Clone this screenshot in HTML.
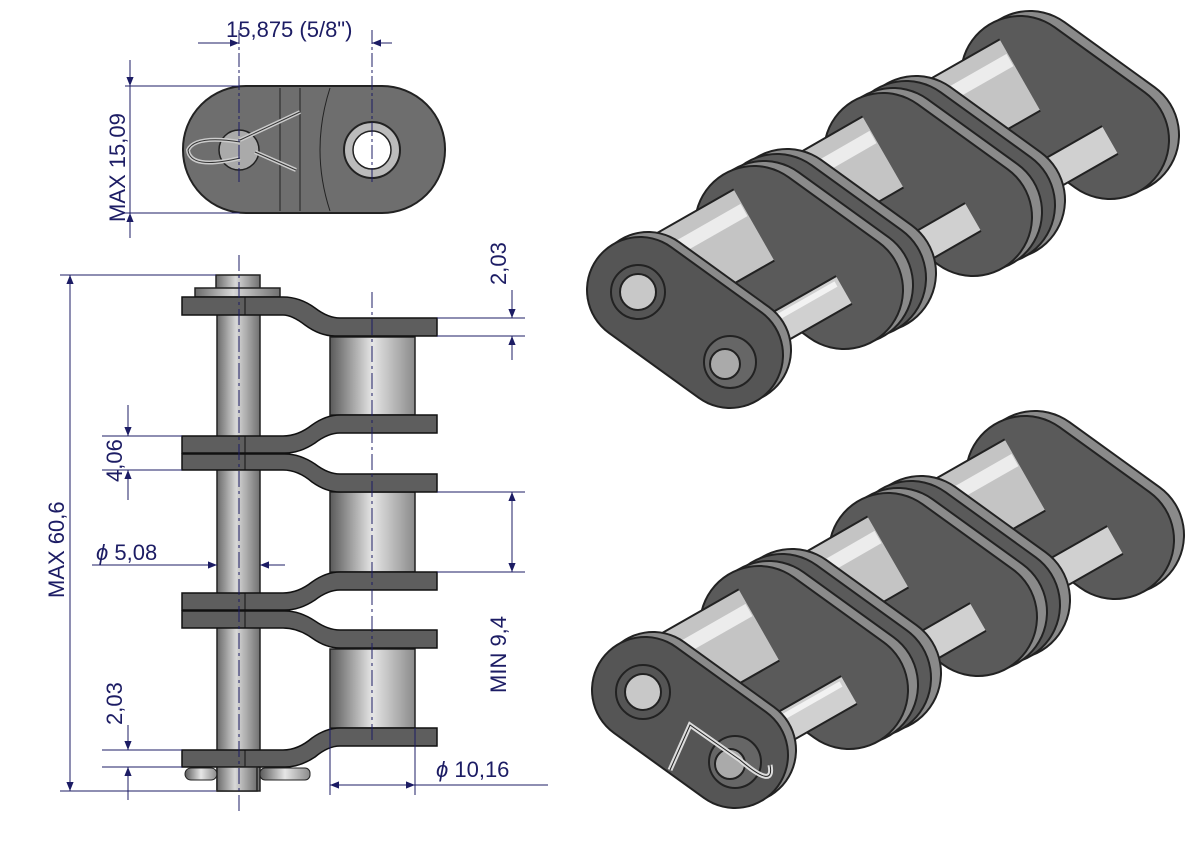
<!DOCTYPE html>
<html><head><meta charset="utf-8"><style>
html,body{margin:0;padding:0;background:#fff;}
svg{display:block;}
text{font-family:"Liberation Sans",sans-serif;fill:#1c1c64;font-size:22px;}
</style></head><body>
<svg width="1191" height="842" viewBox="0 0 1191 842" xmlns="http://www.w3.org/2000/svg">
<defs>
<linearGradient id="cyl" x1="0" x2="1" y1="0" y2="0">
<stop offset="0" stop-color="#6a6a6a"/><stop offset="0.45" stop-color="#d8d8d8"/><stop offset="1" stop-color="#707070"/>
</linearGradient>
<linearGradient id="rol" x1="0" x2="1" y1="0" y2="0">
<stop offset="0" stop-color="#5a5a5a"/><stop offset="0.5" stop-color="#e6e6e6"/><stop offset="1" stop-color="#8a8a8a"/>
</linearGradient>
<marker id="ar" viewBox="0 0 10 10" refX="10" refY="5" markerWidth="16" markerHeight="9" orient="auto-start-reverse" markerUnits="userSpaceOnUse">
<path d="M0,1 L10,5 L0,9 z" fill="#1c1c64"/></marker>
</defs>

<!-- TOP VIEW -->
<rect x="183" y="86" width="262" height="127" rx="63" fill="#6e6e6e" stroke="#222" stroke-width="2"/>
<line x1="280" y1="88" x2="280" y2="211" stroke="#222"/>
<line x1="300" y1="88" x2="300" y2="211" stroke="#222"/>
<path d="M330,88 Q310,150 330,211" fill="none" stroke="#222"/>
<circle cx="239" cy="150" r="20" fill="#aaa" stroke="#222" stroke-width="1.5"/>
<circle cx="372" cy="150" r="28" fill="#bbb" stroke="#222" stroke-width="2"/>
<circle cx="372" cy="150" r="19" fill="#fff" stroke="#222" stroke-width="1.5"/>
<path d="M240,140 L300,112 M255,152 L296,170 M240,158 Q190,170 188,150 Q195,135 240,142" fill="none" stroke="#ccc" stroke-width="4"/>
<path d="M240,140 L300,112 M255,152 L296,170 M240,158 Q190,170 188,150 Q195,135 240,142" fill="none" stroke="#333" stroke-width="1"/>
<g stroke="#1c1c64" stroke-width="1" fill="none">
<line x1="239" y1="30" x2="239" y2="185" stroke-dasharray="14,3,3,3"/>
<line x1="372" y1="30" x2="372" y2="185" stroke-dasharray="14,3,3,3"/>
<line x1="198" y1="43" x2="239" y2="43" marker-end="url(#ar)"/>
<line x1="392" y1="43" x2="372" y2="43" marker-end="url(#ar)"/>
<line x1="125" y1="86" x2="240" y2="86"/><line x1="125" y1="213" x2="240" y2="213"/>
<line x1="130" y1="60" x2="130" y2="86" marker-end="url(#ar)"/>
<line x1="130" y1="238" x2="130" y2="213" marker-end="url(#ar)"/>
<line x1="130" y1="86" x2="130" y2="213"/>
</g>
<text x="226" y="37">15,875  (5/8")</text>
<text transform="translate(125,222) rotate(-90)">MAX 15,09</text>

<!-- SIDE VIEW -->
<rect x="217" y="298" width="43" height="493" fill="url(#cyl)" stroke="#222" stroke-width="1.5"/>
<rect x="216" y="275" width="44" height="15" fill="url(#cyl)" stroke="#222" stroke-width="1.5"/>
<rect x="195" y="288" width="85" height="9" fill="url(#cyl)" stroke="#222" stroke-width="1.5"/>
<rect x="330" y="337" width="85" height="78" fill="url(#rol)" stroke="#222" stroke-width="1.5"/>
<rect x="330" y="492" width="85" height="80" fill="url(#rol)" stroke="#222" stroke-width="1.5"/>
<rect x="330" y="649" width="85" height="79" fill="url(#rol)" stroke="#222" stroke-width="1.5"/>
<g fill="#5e5e5e" stroke="#111" stroke-width="1.5">
<path d="M182,297 L283,297 Q300,297 315,308 Q328,318 340,318 L437,318 L437,336 L335,336 Q320,336 305,325 Q292,315 283,315 L182,315 Z"/>
<path d="M437,415 L340,415 Q326,415 312,425 Q298,436 283,436 L182,436 L182,453 L285,453 Q300,453 315,443 Q328,433 340,433 L437,433 Z"/>
<path d="M437,492 L340,492 Q326,492 312,482 Q298,470 283,470 L182,470 L182,454 L285,454 Q300,454 315,464 Q328,474 340,474 L437,474 Z"/>
<path d="M437,572 L340,572 Q326,572 312,582 Q298,593 283,593 L182,593 L182,610 L285,610 Q300,610 315,600 Q328,590 340,590 L437,590 Z"/>
<path d="M437,648 L340,648 Q326,648 312,638 Q298,628 283,628 L182,628 L182,611 L285,611 Q300,611 315,621 Q328,630 340,630 L437,630 Z"/>
<path d="M437,728 L340,728 Q326,728 312,738 Q298,750 283,750 L182,750 L182,767 L285,767 Q300,767 315,757 Q328,746 340,746 L437,746 Z"/>
</g>
<g stroke="#111" stroke-width="1">
<line x1="245" y1="297" x2="245" y2="315"/><line x1="245" y1="436" x2="245" y2="470"/>
<line x1="245" y1="593" x2="245" y2="628"/><line x1="245" y1="750" x2="245" y2="767"/>
</g>
<rect x="185" y="768" width="32" height="12" rx="6" fill="url(#rol)" stroke="#222"/>
<rect x="260" y="768" width="50" height="12" rx="5" fill="url(#rol)" stroke="#222"/>
<rect x="217" y="767" width="40" height="24" fill="url(#cyl)" stroke="#222" stroke-width="1.5"/>

<g stroke="#1c1c64" stroke-width="1" fill="none">
<line x1="239" y1="255" x2="239" y2="815" stroke-dasharray="16,4,3,4"/>
<line x1="372" y1="292" x2="372" y2="740" stroke-dasharray="16,4,3,4"/>
<line x1="60" y1="275" x2="216" y2="275"/><line x1="60" y1="791" x2="216" y2="791"/>
<line x1="70" y1="275" x2="70" y2="791" marker-start="url(#ar)" marker-end="url(#ar)"/>
<line x1="437" y1="318" x2="525" y2="318"/><line x1="437" y1="336" x2="525" y2="336"/>
<line x1="512" y1="290" x2="512" y2="318" marker-end="url(#ar)"/>
<line x1="512" y1="360" x2="512" y2="336" marker-end="url(#ar)"/>
<line x1="102" y1="436" x2="182" y2="436"/><line x1="102" y1="470" x2="182" y2="470"/>
<line x1="128" y1="405" x2="128" y2="436" marker-end="url(#ar)"/>
<line x1="128" y1="500" x2="128" y2="470" marker-end="url(#ar)"/>
<line x1="437" y1="492" x2="525" y2="492"/><line x1="437" y1="572" x2="525" y2="572"/>
<line x1="512" y1="492" x2="512" y2="572" marker-start="url(#ar)" marker-end="url(#ar)"/>
<line x1="92" y1="565" x2="217" y2="565" marker-end="url(#ar)"/>
<line x1="285" y1="565" x2="260" y2="565" marker-end="url(#ar)"/>
<line x1="102" y1="750" x2="182" y2="750"/><line x1="102" y1="767" x2="182" y2="767"/>
<line x1="128" y1="725" x2="128" y2="750" marker-end="url(#ar)"/>
<line x1="128" y1="800" x2="128" y2="767" marker-end="url(#ar)"/>
<line x1="330" y1="728" x2="330" y2="795"/><line x1="415" y1="728" x2="415" y2="795"/>
<line x1="330" y1="785" x2="415" y2="785" marker-start="url(#ar)" marker-end="url(#ar)"/>
<line x1="415" y1="785" x2="548" y2="785"/>
</g>
<text transform="translate(64,598) rotate(-90)">MAX 60,6</text>
<text transform="translate(506,285) rotate(-90)">2,03</text>
<text transform="translate(122,482) rotate(-90)">4,06</text>
<text transform="translate(506,693) rotate(-90)">MIN 9,4</text>
<text transform="translate(122,725) rotate(-90)">2,03</text>
<text x="96" y="560"><tspan font-style="italic">ϕ</tspan>  5,08</text>
<text x="436" y="777"><tspan font-style="italic">ϕ</tspan>  10,16</text>

<!-- 3D CHAIN -->
<g id="chain" stroke-linecap="round">
<line x1="1110" y1="140" x2="1170" y2="108" stroke="#222" stroke-width="14" stroke-linecap="butt"/>
<!-- plate 5 (back) -->
<line x1="1030" y1="70" x2="1120" y2="135" stroke="#222" stroke-width="120"/>
<line x1="1030" y1="70" x2="1120" y2="135" stroke="#8a8a8a" stroke-width="116"/>
<line x1="1020" y1="75" x2="1110" y2="140" stroke="#222" stroke-width="120"/>
<line x1="1020" y1="75" x2="1110" y2="140" stroke="#5a5a5a" stroke-width="116"/>
<line x1="1020" y1="75" x2="906" y2="140" stroke="#222" stroke-width="84" stroke-linecap="butt"/>
<line x1="1020" y1="75" x2="906" y2="140" stroke="#c4c4c4" stroke-width="80" stroke-linecap="butt"/>
<line x1="1010" y1="60" x2="896" y2="125" stroke="#ececec" stroke-width="14" stroke-linecap="butt"/>
<line x1="1110" y1="140" x2="996" y2="205" stroke="#222" stroke-width="34" stroke-linecap="butt"/>
<line x1="1110" y1="140" x2="996" y2="205" stroke="#d0d0d0" stroke-width="30" stroke-linecap="butt"/>
<!-- plate 4 -->
<line x1="916" y1="135" x2="1006" y2="200" stroke="#222" stroke-width="120"/>
<line x1="916" y1="135" x2="1006" y2="200" stroke="#8a8a8a" stroke-width="116"/>
<line x1="906" y1="140" x2="996" y2="205" stroke="#222" stroke-width="120"/>
<line x1="906" y1="140" x2="996" y2="205" stroke="#5a5a5a" stroke-width="116"/>
<!-- plate 3 -->
<line x1="893" y1="147" x2="983" y2="212" stroke="#222" stroke-width="120"/>
<line x1="893" y1="147" x2="983" y2="212" stroke="#8a8a8a" stroke-width="116"/>
<line x1="883" y1="152" x2="973" y2="217" stroke="#222" stroke-width="120"/>
<line x1="883" y1="152" x2="973" y2="217" stroke="#5a5a5a" stroke-width="116"/>
<line x1="883" y1="152" x2="777" y2="213" stroke="#222" stroke-width="84" stroke-linecap="butt"/>
<line x1="883" y1="152" x2="777" y2="213" stroke="#c4c4c4" stroke-width="80" stroke-linecap="butt"/>
<line x1="873" y1="137" x2="767" y2="198" stroke="#ececec" stroke-width="14" stroke-linecap="butt"/>
<line x1="973" y1="217" x2="867" y2="278" stroke="#222" stroke-width="34" stroke-linecap="butt"/>
<line x1="973" y1="217" x2="867" y2="278" stroke="#d0d0d0" stroke-width="30" stroke-linecap="butt"/>
<!-- plate 2 -->
<line x1="787" y1="208" x2="877" y2="273" stroke="#222" stroke-width="120"/>
<line x1="787" y1="208" x2="877" y2="273" stroke="#8a8a8a" stroke-width="116"/>
<line x1="777" y1="213" x2="867" y2="278" stroke="#222" stroke-width="120"/>
<line x1="777" y1="213" x2="867" y2="278" stroke="#5a5a5a" stroke-width="116"/>
<!-- plate 1 -->
<line x1="764" y1="220" x2="854" y2="285" stroke="#222" stroke-width="120"/>
<line x1="764" y1="220" x2="854" y2="285" stroke="#8a8a8a" stroke-width="116"/>
<line x1="754" y1="225" x2="844" y2="290" stroke="#222" stroke-width="120"/>
<line x1="754" y1="225" x2="844" y2="290" stroke="#5a5a5a" stroke-width="116"/>
<line x1="754" y1="225" x2="640" y2="290" stroke="#222" stroke-width="84" stroke-linecap="butt"/>
<line x1="754" y1="225" x2="640" y2="290" stroke="#c4c4c4" stroke-width="80" stroke-linecap="butt"/>
<line x1="744" y1="210" x2="630" y2="275" stroke="#ececec" stroke-width="14" stroke-linecap="butt"/>
<line x1="844" y1="290" x2="730" y2="355" stroke="#222" stroke-width="34" stroke-linecap="butt"/>
<line x1="844" y1="290" x2="730" y2="355" stroke="#d0d0d0" stroke-width="30" stroke-linecap="butt"/>
<line x1="836" y1="284" x2="722" y2="349" stroke="#f2f2f2" stroke-width="6" stroke-linecap="butt"/>
<!-- plate 0 (front) -->
<line x1="648" y1="285" x2="738" y2="350" stroke="#222" stroke-width="108"/>
<line x1="648" y1="285" x2="738" y2="350" stroke="#8a8a8a" stroke-width="104"/>
<line x1="640" y1="290" x2="730" y2="355" stroke="#222" stroke-width="108"/>
<line x1="640" y1="290" x2="730" y2="355" stroke="#555" stroke-width="104"/>
<circle cx="638" cy="292" r="27" fill="#555" stroke="#222" stroke-width="2"/>
<circle cx="638" cy="292" r="18" fill="#c8c8c8" stroke="#222" stroke-width="2"/>
<circle cx="730" cy="362" r="26" fill="#666" stroke="#222" stroke-width="2"/>
<circle cx="725" cy="364" r="15" fill="#aaa" stroke="#222" stroke-width="2"/>
</g>
<use href="#chain" transform="translate(5,400)"/>
<path d="M740,760 L690,725 L670,770 M740,760 Q775,790 770,765" fill="none" stroke="#ddd" stroke-width="5"/>
<path d="M740,760 L690,725 L670,770 M740,760 Q775,790 770,765" fill="none" stroke="#222" stroke-width="1"/>
</svg>
</body></html>
